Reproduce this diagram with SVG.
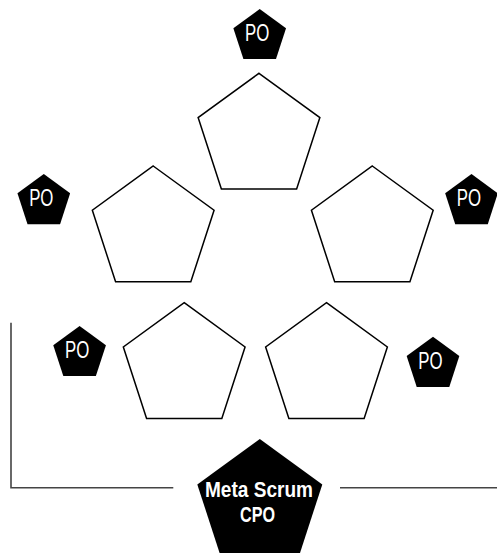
<svg xmlns="http://www.w3.org/2000/svg" xmlns:xlink="http://www.w3.org/1999/xlink" width="497" height="553" viewBox="0 0 497 553">
<style>
.team{fill:#fff;stroke:#000;stroke-width:1.5}
.po{fill:#000;stroke:none}
.potext{font-family:"Liberation Sans",Arial,sans-serif;font-size:23px;fill:#fff;text-anchor:middle}
.meta{font-family:"Liberation Sans",Arial,sans-serif;font-weight:bold;font-size:21.5px;fill:#fff;text-anchor:middle}
.conn{fill:none;stroke:#444;stroke-width:1.6}
</style>
<defs>
<polygon id="big" points="0,-64 60.87,-19.78 37.62,51.78 -37.62,51.78 -60.87,-19.78"/>
<polygon id="small" points="0,-27.7 26.34,-8.56 16.28,22.41 -16.28,22.41 -26.34,-8.56"/>
</defs>
<g id="connectors">
<polyline class="conn" points="11,322.7 11,487.7 173.3,487.7"/>
<line class="conn" x1="340" y1="487.7" x2="497" y2="487.7"/>
</g>
<g id="team-top"><use xlink:href="#big" class="team" transform="translate(259,137.3)"/></g>
<g id="team-mid-left"><use xlink:href="#big" class="team" transform="translate(153.2,230)"/></g>
<g id="team-mid-right"><use xlink:href="#big" class="team" transform="translate(372.3,230)"/></g>
<g id="team-bottom-left"><use xlink:href="#big" class="team" transform="translate(184.2,366.7)"/></g>
<g id="team-bottom-right"><use xlink:href="#big" class="team" transform="translate(326.5,366.7)"/></g>
<g id="po-top"><use xlink:href="#small" class="po" transform="translate(259.7,36.7)"/><text class="potext" x="257.2" y="41" textLength="24.3" lengthAdjust="spacingAndGlyphs">PO</text></g>
<g id="po-left"><use xlink:href="#small" class="po" transform="translate(43.8,201.8)"/><text class="potext" x="41.3" y="206.1" textLength="24.3" lengthAdjust="spacingAndGlyphs">PO</text></g>
<g id="po-right"><use xlink:href="#small" class="po" transform="translate(471.5,201.8)"/><text class="potext" x="469" y="206.1" textLength="24.3" lengthAdjust="spacingAndGlyphs">PO</text></g>
<g id="po-bottom-left"><use xlink:href="#small" class="po" transform="translate(79.6,353.7)"/><text class="potext" x="77.1" y="358" textLength="24.3" lengthAdjust="spacingAndGlyphs">PO</text></g>
<g id="po-bottom-right"><use xlink:href="#small" class="po" transform="translate(433,364.5)"/><text class="potext" x="430.5" y="368.8" textLength="24.3" lengthAdjust="spacingAndGlyphs">PO</text></g>
<g id="meta-scrum-cpo">
<polygon class="po" points="259.8,439 322.29,484.4 298.42,557.85 221.18,557.85 197.31,484.4"/>
<text class="meta" x="259" y="497" textLength="108" lengthAdjust="spacingAndGlyphs">Meta Scrum</text>
<text class="meta" x="257.5" y="522" textLength="35" lengthAdjust="spacingAndGlyphs">CPO</text>
</g>
</svg>
